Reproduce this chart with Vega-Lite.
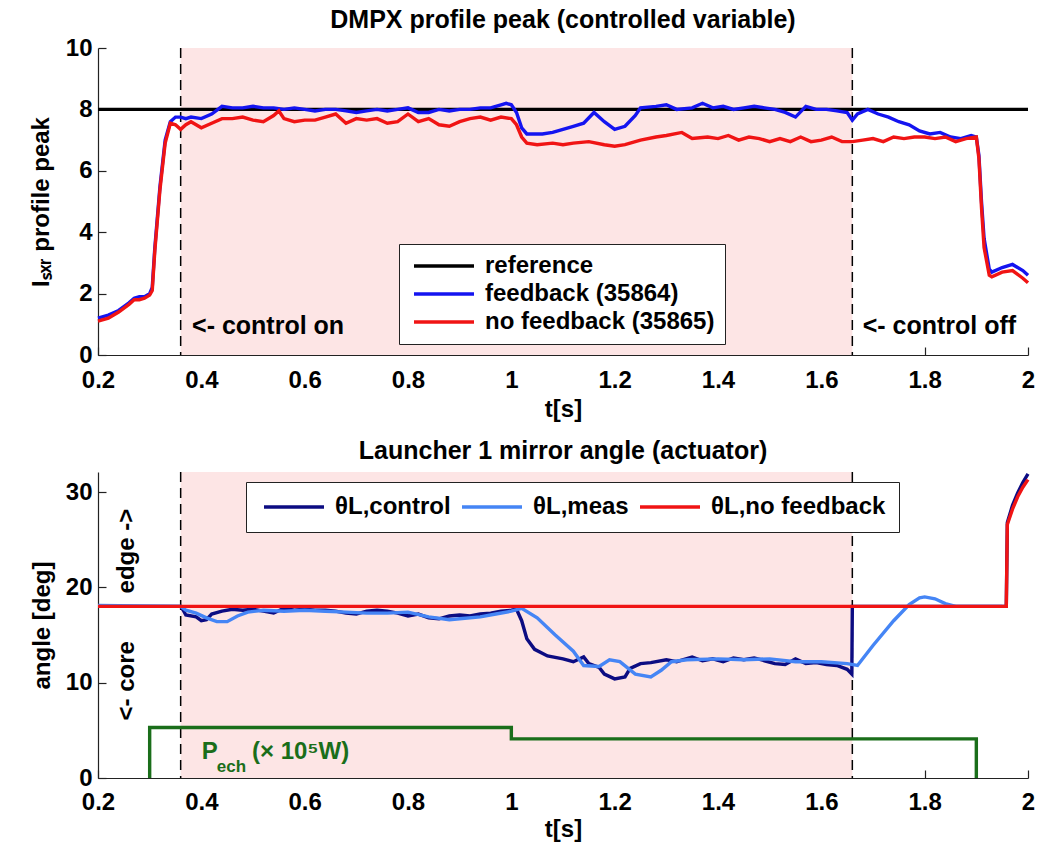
{
"$schema": "https://vega.github.io/schema/vega-lite/v6.json",
"padding": {"left": 29, "top": 8, "right": 10, "bottom": 2},
"background": "white",
"config": {
  "view": {"stroke": null},
  "font": "Liberation Sans",
  "axis": {"grid": false, "domainColor": "#222", "domainWidth": 1.2, "tickColor": "#222", "tickSize": -8, "tickWidth": 1.2,
           "labelFont": "Liberation Sans", "labelFontWeight": "bold", "labelFontSize": 24, "labelColor": "black",
           "titleFont": "Liberation Sans", "titleFontWeight": "bold", "titleFontSize": 24, "titleColor": "black"},
  "title": {"font": "Liberation Sans", "fontWeight": "bold", "fontSize": 25, "color": "black", "anchor": "middle"},
  "legend": {"labelFont": "Liberation Sans", "labelFontWeight": "bold", "labelFontSize": 24, "labelColor": "black", "labelLimit": 500}
},
"datasets": {
  "shade": [{"t0": 0.36, "t1": 1.66}],
  "marks": [{"t": 0.36}, {"t": 1.66}],
  "top": [
    {"t": 0.2, "v": 8, "s": "reference"}, {"t": 2.0, "v": 8, "s": "reference"},
    {"t":0.2,"v":1.2,"s":"feedback (35864)"},{"t":0.22,"v":1.3,"s":"feedback (35864)"},{"t":0.24,"v":1.45,"s":"feedback (35864)"},{"t":0.26,"v":1.7,"s":"feedback (35864)"},{"t":0.27,"v":1.85,"s":"feedback (35864)"},{"t":0.28,"v":1.9,"s":"feedback (35864)"},{"t":0.29,"v":1.9,"s":"feedback (35864)"},{"t":0.3,"v":2.0,"s":"feedback (35864)"},{"t":0.305,"v":2.2,"s":"feedback (35864)"},{"t":0.31,"v":3.5,"s":"feedback (35864)"},{"t":0.32,"v":5.5,"s":"feedback (35864)"},{"t":0.33,"v":7.0,"s":"feedback (35864)"},{"t":0.34,"v":7.6,"s":"feedback (35864)"},{"t":0.35,"v":7.75,"s":"feedback (35864)"},{"t":0.36,"v":7.75,"s":"feedback (35864)"},{"t":0.37,"v":7.7,"s":"feedback (35864)"},{"t":0.38,"v":7.75,"s":"feedback (35864)"},{"t":0.4,"v":7.7,"s":"feedback (35864)"},{"t":0.42,"v":7.85,"s":"feedback (35864)"},{"t":0.44,"v":8.1,"s":"feedback (35864)"},{"t":0.46,"v":8.05,"s":"feedback (35864)"},{"t":0.48,"v":8.05,"s":"feedback (35864)"},{"t":0.5,"v":8.1,"s":"feedback (35864)"},{"t":0.52,"v":8.05,"s":"feedback (35864)"},{"t":0.54,"v":8.05,"s":"feedback (35864)"},{"t":0.56,"v":8.0,"s":"feedback (35864)"},{"t":0.58,"v":8.05,"s":"feedback (35864)"},{"t":0.6,"v":8.0,"s":"feedback (35864)"},{"t":0.62,"v":7.95,"s":"feedback (35864)"},{"t":0.64,"v":8.0,"s":"feedback (35864)"},{"t":0.66,"v":8.0,"s":"feedback (35864)"},{"t":0.68,"v":7.95,"s":"feedback (35864)"},{"t":0.7,"v":7.9,"s":"feedback (35864)"},{"t":0.72,"v":7.95,"s":"feedback (35864)"},{"t":0.74,"v":8.0,"s":"feedback (35864)"},{"t":0.76,"v":7.95,"s":"feedback (35864)"},{"t":0.78,"v":8.0,"s":"feedback (35864)"},{"t":0.8,"v":8.05,"s":"feedback (35864)"},{"t":0.82,"v":7.9,"s":"feedback (35864)"},{"t":0.84,"v":7.9,"s":"feedback (35864)"},{"t":0.86,"v":8.0,"s":"feedback (35864)"},{"t":0.88,"v":7.95,"s":"feedback (35864)"},{"t":0.9,"v":8.0,"s":"feedback (35864)"},{"t":0.92,"v":8.0,"s":"feedback (35864)"},{"t":0.94,"v":8.05,"s":"feedback (35864)"},{"t":0.96,"v":8.05,"s":"feedback (35864)"},{"t":0.98,"v":8.15,"s":"feedback (35864)"},{"t":0.99,"v":8.2,"s":"feedback (35864)"},{"t":1.0,"v":8.15,"s":"feedback (35864)"},{"t":1.01,"v":7.9,"s":"feedback (35864)"},{"t":1.02,"v":7.4,"s":"feedback (35864)"},{"t":1.03,"v":7.2,"s":"feedback (35864)"},{"t":1.06,"v":7.2,"s":"feedback (35864)"},{"t":1.08,"v":7.25,"s":"feedback (35864)"},{"t":1.1,"v":7.35,"s":"feedback (35864)"},{"t":1.12,"v":7.45,"s":"feedback (35864)"},{"t":1.14,"v":7.55,"s":"feedback (35864)"},{"t":1.16,"v":7.9,"s":"feedback (35864)"},{"t":1.18,"v":7.6,"s":"feedback (35864)"},{"t":1.2,"v":7.35,"s":"feedback (35864)"},{"t":1.22,"v":7.45,"s":"feedback (35864)"},{"t":1.24,"v":7.8,"s":"feedback (35864)"},{"t":1.25,"v":8.05,"s":"feedback (35864)"},{"t":1.28,"v":8.1,"s":"feedback (35864)"},{"t":1.3,"v":8.15,"s":"feedback (35864)"},{"t":1.32,"v":8.0,"s":"feedback (35864)"},{"t":1.35,"v":8.05,"s":"feedback (35864)"},{"t":1.37,"v":8.2,"s":"feedback (35864)"},{"t":1.39,"v":8.05,"s":"feedback (35864)"},{"t":1.41,"v":8.1,"s":"feedback (35864)"},{"t":1.43,"v":8.0,"s":"feedback (35864)"},{"t":1.45,"v":8.05,"s":"feedback (35864)"},{"t":1.47,"v":8.1,"s":"feedback (35864)"},{"t":1.49,"v":8.05,"s":"feedback (35864)"},{"t":1.51,"v":8.0,"s":"feedback (35864)"},{"t":1.53,"v":7.9,"s":"feedback (35864)"},{"t":1.55,"v":7.75,"s":"feedback (35864)"},{"t":1.57,"v":8.1,"s":"feedback (35864)"},{"t":1.59,"v":8.0,"s":"feedback (35864)"},{"t":1.61,"v":8.0,"s":"feedback (35864)"},{"t":1.63,"v":7.95,"s":"feedback (35864)"},{"t":1.65,"v":7.9,"s":"feedback (35864)"},{"t":1.66,"v":7.65,"s":"feedback (35864)"},{"t":1.67,"v":7.85,"s":"feedback (35864)"},{"t":1.69,"v":8.0,"s":"feedback (35864)"},{"t":1.71,"v":7.85,"s":"feedback (35864)"},{"t":1.73,"v":7.75,"s":"feedback (35864)"},{"t":1.75,"v":7.6,"s":"feedback (35864)"},{"t":1.77,"v":7.5,"s":"feedback (35864)"},{"t":1.79,"v":7.3,"s":"feedback (35864)"},{"t":1.81,"v":7.2,"s":"feedback (35864)"},{"t":1.83,"v":7.25,"s":"feedback (35864)"},{"t":1.85,"v":7.1,"s":"feedback (35864)"},{"t":1.87,"v":7.05,"s":"feedback (35864)"},{"t":1.89,"v":7.15,"s":"feedback (35864)"},{"t":1.9,"v":7.1,"s":"feedback (35864)"},{"t":1.905,"v":6.5,"s":"feedback (35864)"},{"t":1.91,"v":5.0,"s":"feedback (35864)"},{"t":1.915,"v":3.8,"s":"feedback (35864)"},{"t":1.925,"v":2.8,"s":"feedback (35864)"},{"t":1.93,"v":2.7,"s":"feedback (35864)"},{"t":1.95,"v":2.85,"s":"feedback (35864)"},{"t":1.97,"v":2.95,"s":"feedback (35864)"},{"t":1.99,"v":2.75,"s":"feedback (35864)"},{"t":2.0,"v":2.6,"s":"feedback (35864)"},
    {"t":0.2,"v":1.1,"s":"no feedback (35865)"},{"t":0.22,"v":1.2,"s":"no feedback (35865)"},{"t":0.24,"v":1.4,"s":"no feedback (35865)"},{"t":0.26,"v":1.65,"s":"no feedback (35865)"},{"t":0.27,"v":1.8,"s":"no feedback (35865)"},{"t":0.28,"v":1.8,"s":"no feedback (35865)"},{"t":0.29,"v":1.85,"s":"no feedback (35865)"},{"t":0.3,"v":1.95,"s":"no feedback (35865)"},{"t":0.305,"v":2.1,"s":"no feedback (35865)"},{"t":0.31,"v":3.4,"s":"no feedback (35865)"},{"t":0.32,"v":5.4,"s":"no feedback (35865)"},{"t":0.33,"v":6.9,"s":"no feedback (35865)"},{"t":0.34,"v":7.55,"s":"no feedback (35865)"},{"t":0.35,"v":7.5,"s":"no feedback (35865)"},{"t":0.36,"v":7.35,"s":"no feedback (35865)"},{"t":0.37,"v":7.5,"s":"no feedback (35865)"},{"t":0.38,"v":7.6,"s":"no feedback (35865)"},{"t":0.4,"v":7.4,"s":"no feedback (35865)"},{"t":0.42,"v":7.55,"s":"no feedback (35865)"},{"t":0.44,"v":7.7,"s":"no feedback (35865)"},{"t":0.46,"v":7.7,"s":"no feedback (35865)"},{"t":0.48,"v":7.75,"s":"no feedback (35865)"},{"t":0.5,"v":7.65,"s":"no feedback (35865)"},{"t":0.52,"v":7.6,"s":"no feedback (35865)"},{"t":0.54,"v":7.8,"s":"no feedback (35865)"},{"t":0.55,"v":7.95,"s":"no feedback (35865)"},{"t":0.56,"v":7.7,"s":"no feedback (35865)"},{"t":0.58,"v":7.6,"s":"no feedback (35865)"},{"t":0.6,"v":7.65,"s":"no feedback (35865)"},{"t":0.62,"v":7.65,"s":"no feedback (35865)"},{"t":0.64,"v":7.75,"s":"no feedback (35865)"},{"t":0.66,"v":7.85,"s":"no feedback (35865)"},{"t":0.68,"v":7.55,"s":"no feedback (35865)"},{"t":0.7,"v":7.7,"s":"no feedback (35865)"},{"t":0.72,"v":7.65,"s":"no feedback (35865)"},{"t":0.74,"v":7.7,"s":"no feedback (35865)"},{"t":0.76,"v":7.55,"s":"no feedback (35865)"},{"t":0.78,"v":7.6,"s":"no feedback (35865)"},{"t":0.8,"v":7.85,"s":"no feedback (35865)"},{"t":0.82,"v":7.6,"s":"no feedback (35865)"},{"t":0.84,"v":7.7,"s":"no feedback (35865)"},{"t":0.86,"v":7.5,"s":"no feedback (35865)"},{"t":0.88,"v":7.45,"s":"no feedback (35865)"},{"t":0.9,"v":7.6,"s":"no feedback (35865)"},{"t":0.92,"v":7.7,"s":"no feedback (35865)"},{"t":0.94,"v":7.75,"s":"no feedback (35865)"},{"t":0.96,"v":7.65,"s":"no feedback (35865)"},{"t":0.98,"v":7.75,"s":"no feedback (35865)"},{"t":1.0,"v":7.7,"s":"no feedback (35865)"},{"t":1.01,"v":7.5,"s":"no feedback (35865)"},{"t":1.02,"v":7.1,"s":"no feedback (35865)"},{"t":1.03,"v":6.9,"s":"no feedback (35865)"},{"t":1.05,"v":6.85,"s":"no feedback (35865)"},{"t":1.08,"v":6.9,"s":"no feedback (35865)"},{"t":1.1,"v":6.85,"s":"no feedback (35865)"},{"t":1.12,"v":6.9,"s":"no feedback (35865)"},{"t":1.15,"v":6.95,"s":"no feedback (35865)"},{"t":1.18,"v":6.85,"s":"no feedback (35865)"},{"t":1.2,"v":6.8,"s":"no feedback (35865)"},{"t":1.22,"v":6.85,"s":"no feedback (35865)"},{"t":1.25,"v":7.0,"s":"no feedback (35865)"},{"t":1.28,"v":7.1,"s":"no feedback (35865)"},{"t":1.3,"v":7.15,"s":"no feedback (35865)"},{"t":1.33,"v":7.25,"s":"no feedback (35865)"},{"t":1.35,"v":7.05,"s":"no feedback (35865)"},{"t":1.38,"v":7.1,"s":"no feedback (35865)"},{"t":1.4,"v":7.05,"s":"no feedback (35865)"},{"t":1.42,"v":7.15,"s":"no feedback (35865)"},{"t":1.44,"v":7.0,"s":"no feedback (35865)"},{"t":1.46,"v":7.1,"s":"no feedback (35865)"},{"t":1.48,"v":7.05,"s":"no feedback (35865)"},{"t":1.5,"v":6.95,"s":"no feedback (35865)"},{"t":1.52,"v":7.05,"s":"no feedback (35865)"},{"t":1.54,"v":6.95,"s":"no feedback (35865)"},{"t":1.56,"v":7.1,"s":"no feedback (35865)"},{"t":1.58,"v":6.95,"s":"no feedback (35865)"},{"t":1.6,"v":7.0,"s":"no feedback (35865)"},{"t":1.62,"v":7.1,"s":"no feedback (35865)"},{"t":1.64,"v":6.95,"s":"no feedback (35865)"},{"t":1.66,"v":6.95,"s":"no feedback (35865)"},{"t":1.68,"v":7.0,"s":"no feedback (35865)"},{"t":1.7,"v":7.05,"s":"no feedback (35865)"},{"t":1.72,"v":6.95,"s":"no feedback (35865)"},{"t":1.74,"v":7.1,"s":"no feedback (35865)"},{"t":1.76,"v":7.05,"s":"no feedback (35865)"},{"t":1.78,"v":7.1,"s":"no feedback (35865)"},{"t":1.8,"v":7.1,"s":"no feedback (35865)"},{"t":1.82,"v":7.05,"s":"no feedback (35865)"},{"t":1.84,"v":7.1,"s":"no feedback (35865)"},{"t":1.86,"v":6.95,"s":"no feedback (35865)"},{"t":1.88,"v":7.05,"s":"no feedback (35865)"},{"t":1.9,"v":7.1,"s":"no feedback (35865)"},{"t":1.905,"v":6.4,"s":"no feedback (35865)"},{"t":1.91,"v":4.8,"s":"no feedback (35865)"},{"t":1.915,"v":3.5,"s":"no feedback (35865)"},{"t":1.925,"v":2.6,"s":"no feedback (35865)"},{"t":1.93,"v":2.55,"s":"no feedback (35865)"},{"t":1.95,"v":2.7,"s":"no feedback (35865)"},{"t":1.97,"v":2.75,"s":"no feedback (35865)"},{"t":1.99,"v":2.5,"s":"no feedback (35865)"},{"t":2.0,"v":2.35,"s":"no feedback (35865)"}
  ],
  "bot": [
    {"t":0.2,"v":18,"s":"θL,control"},{"t":0.36,"v":18,"s":"θL,control"},{"t":0.365,"v":17.6,"s":"θL,control"},{"t":0.37,"v":17.1,"s":"θL,control"},{"t":0.39,"v":16.9,"s":"θL,control"},{"t":0.4,"v":16.5,"s":"θL,control"},{"t":0.41,"v":16.6,"s":"θL,control"},{"t":0.42,"v":17.2,"s":"θL,control"},{"t":0.44,"v":17.5,"s":"θL,control"},{"t":0.46,"v":17.7,"s":"θL,control"},{"t":0.48,"v":17.6,"s":"θL,control"},{"t":0.5,"v":17.7,"s":"θL,control"},{"t":0.52,"v":17.5,"s":"θL,control"},{"t":0.54,"v":17.3,"s":"θL,control"},{"t":0.56,"v":17.8,"s":"θL,control"},{"t":0.58,"v":17.6,"s":"θL,control"},{"t":0.6,"v":17.7,"s":"θL,control"},{"t":0.62,"v":17.6,"s":"θL,control"},{"t":0.64,"v":17.6,"s":"θL,control"},{"t":0.66,"v":17.5,"s":"θL,control"},{"t":0.68,"v":17.3,"s":"θL,control"},{"t":0.7,"v":17.2,"s":"θL,control"},{"t":0.72,"v":17.5,"s":"θL,control"},{"t":0.74,"v":17.6,"s":"θL,control"},{"t":0.76,"v":17.5,"s":"θL,control"},{"t":0.78,"v":17.3,"s":"θL,control"},{"t":0.8,"v":17.0,"s":"θL,control"},{"t":0.82,"v":17.2,"s":"θL,control"},{"t":0.84,"v":16.8,"s":"θL,control"},{"t":0.86,"v":16.7,"s":"θL,control"},{"t":0.88,"v":17.0,"s":"θL,control"},{"t":0.9,"v":17.1,"s":"θL,control"},{"t":0.92,"v":17.0,"s":"θL,control"},{"t":0.94,"v":17.2,"s":"θL,control"},{"t":0.96,"v":17.3,"s":"θL,control"},{"t":0.98,"v":17.5,"s":"θL,control"},{"t":1.0,"v":17.6,"s":"θL,control"},{"t":1.01,"v":17.7,"s":"θL,control"},{"t":1.02,"v":16.5,"s":"θL,control"},{"t":1.03,"v":14.6,"s":"θL,control"},{"t":1.045,"v":13.5,"s":"θL,control"},{"t":1.07,"v":12.8,"s":"θL,control"},{"t":1.1,"v":12.5,"s":"θL,control"},{"t":1.12,"v":12.2,"s":"θL,control"},{"t":1.14,"v":12.7,"s":"θL,control"},{"t":1.15,"v":12.0,"s":"θL,control"},{"t":1.17,"v":11.6,"s":"θL,control"},{"t":1.18,"v":10.9,"s":"θL,control"},{"t":1.2,"v":10.4,"s":"θL,control"},{"t":1.22,"v":10.6,"s":"θL,control"},{"t":1.23,"v":11.5,"s":"θL,control"},{"t":1.25,"v":12.0,"s":"θL,control"},{"t":1.27,"v":12.1,"s":"θL,control"},{"t":1.3,"v":12.4,"s":"θL,control"},{"t":1.32,"v":12.2,"s":"θL,control"},{"t":1.35,"v":12.7,"s":"θL,control"},{"t":1.37,"v":12.3,"s":"θL,control"},{"t":1.39,"v":12.5,"s":"θL,control"},{"t":1.41,"v":12.2,"s":"θL,control"},{"t":1.43,"v":12.6,"s":"θL,control"},{"t":1.45,"v":12.4,"s":"θL,control"},{"t":1.47,"v":12.6,"s":"θL,control"},{"t":1.49,"v":12.3,"s":"θL,control"},{"t":1.51,"v":12.0,"s":"θL,control"},{"t":1.53,"v":11.9,"s":"θL,control"},{"t":1.55,"v":12.5,"s":"θL,control"},{"t":1.57,"v":12.0,"s":"θL,control"},{"t":1.59,"v":12.1,"s":"θL,control"},{"t":1.61,"v":11.9,"s":"θL,control"},{"t":1.63,"v":11.8,"s":"θL,control"},{"t":1.65,"v":11.4,"s":"θL,control"},{"t":1.659,"v":10.9,"s":"θL,control"},{"t":1.66,"v":18,"s":"θL,control"},{"t":1.958,"v":18,"s":"θL,control"},{"t":1.96,"v":26.8,"s":"θL,control"},{"t":1.97,"v":28.6,"s":"θL,control"},{"t":1.98,"v":29.9,"s":"θL,control"},{"t":1.99,"v":31.0,"s":"θL,control"},{"t":2.0,"v":31.9,"s":"θL,control"},
    {"t":0.2,"v":18.1,"s":"θL,meas"},{"t":0.36,"v":18.0,"s":"θL,meas"},{"t":0.37,"v":17.6,"s":"θL,meas"},{"t":0.39,"v":17.3,"s":"θL,meas"},{"t":0.41,"v":16.8,"s":"θL,meas"},{"t":0.43,"v":16.4,"s":"θL,meas"},{"t":0.45,"v":16.4,"s":"θL,meas"},{"t":0.47,"v":17.0,"s":"θL,meas"},{"t":0.49,"v":17.4,"s":"θL,meas"},{"t":0.52,"v":17.6,"s":"θL,meas"},{"t":0.56,"v":17.5,"s":"θL,meas"},{"t":0.6,"v":17.6,"s":"θL,meas"},{"t":0.64,"v":17.5,"s":"θL,meas"},{"t":0.68,"v":17.4,"s":"θL,meas"},{"t":0.72,"v":17.3,"s":"θL,meas"},{"t":0.76,"v":17.3,"s":"θL,meas"},{"t":0.8,"v":17.4,"s":"θL,meas"},{"t":0.84,"v":16.9,"s":"θL,meas"},{"t":0.88,"v":16.6,"s":"θL,meas"},{"t":0.9,"v":16.7,"s":"θL,meas"},{"t":0.94,"v":16.9,"s":"θL,meas"},{"t":0.97,"v":17.2,"s":"θL,meas"},{"t":1.0,"v":17.5,"s":"θL,meas"},{"t":1.02,"v":17.8,"s":"θL,meas"},{"t":1.05,"v":16.8,"s":"θL,meas"},{"t":1.085,"v":15.0,"s":"θL,meas"},{"t":1.12,"v":13.3,"s":"θL,meas"},{"t":1.14,"v":11.8,"s":"θL,meas"},{"t":1.17,"v":11.7,"s":"θL,meas"},{"t":1.19,"v":12.4,"s":"θL,meas"},{"t":1.21,"v":12.2,"s":"θL,meas"},{"t":1.24,"v":10.9,"s":"θL,meas"},{"t":1.27,"v":10.6,"s":"θL,meas"},{"t":1.29,"v":11.3,"s":"θL,meas"},{"t":1.31,"v":12.2,"s":"θL,meas"},{"t":1.34,"v":12.4,"s":"θL,meas"},{"t":1.4,"v":12.5,"s":"θL,meas"},{"t":1.45,"v":12.4,"s":"θL,meas"},{"t":1.5,"v":12.5,"s":"θL,meas"},{"t":1.55,"v":12.2,"s":"θL,meas"},{"t":1.6,"v":12.2,"s":"θL,meas"},{"t":1.65,"v":12.0,"s":"θL,meas"},{"t":1.67,"v":11.8,"s":"θL,meas"},{"t":1.7,"v":13.9,"s":"θL,meas"},{"t":1.74,"v":16.5,"s":"θL,meas"},{"t":1.77,"v":18.2,"s":"θL,meas"},{"t":1.79,"v":18.9,"s":"θL,meas"},{"t":1.8,"v":19.0,"s":"θL,meas"},{"t":1.82,"v":18.8,"s":"θL,meas"},{"t":1.84,"v":18.3,"s":"θL,meas"},{"t":1.86,"v":18.0,"s":"θL,meas"},{"t":1.95,"v":18.0,"s":"θL,meas"},
    {"t":0.2,"v":18,"s":"θL,no feedback"},{"t":1.958,"v":18,"s":"θL,no feedback"},{"t":1.96,"v":26.6,"s":"θL,no feedback"},{"t":1.97,"v":28.2,"s":"θL,no feedback"},{"t":1.98,"v":29.5,"s":"θL,no feedback"},{"t":1.99,"v":30.5,"s":"θL,no feedback"},{"t":2.0,"v":31.3,"s":"θL,no feedback"}
  ],
  "pech": [{"i":1,"t":0.3,"v":0},{"i":2,"t":0.3,"v":5.3},{"i":3,"t":1.0,"v":5.3},{"i":4,"t":1.0,"v":4.1},{"i":5,"t":1.9,"v":4.1},{"i":6,"t":1.9,"v":0}],
  "annTop": [{"t": 0.382, "v": 0.95, "txt": "<- control on"}, {"t": 1.68, "v": 0.95, "txt": "<- control off"}],
  "annSide": [{"t": 0.256, "v": 23.8, "txt": "edge ->"}, {"t": 0.256, "v": 10.2, "txt": "<- core"}],
  "annP": [{"t": 0.401, "v": 2.7, "txt": "P"}, {"t": 0.498, "v": 2.7, "txt": "(× 10⁵W)"}],
  "annSub": [{"t": 0.43, "v": 1.2, "txt": "ech"}]
},
"resolve": {"scale": {"color": "independent"}, "legend": {"color": "independent"}},
"bounds": "flush",
"spacing": 117,
"vconcat": [
  {
    "width": 930, "height": 307,
    "title": {"text": "DMPX profile peak (controlled variable)", "offset": 3},
    "layer": [
      {"data": {"name": "shade"}, "mark": {"type": "rect", "color": "#fde5e5"},
       "encoding": {"x": {"field": "t0", "type": "quantitative", "scale": {"domain": [0.2, 2]},
                          "axis": {"values": [0.2,0.4,0.6,0.8,1,1.2,1.4,1.6,1.8,2], "format": "~g", "title": "t[s]", "labelFlush": false, "labelPadding": 21, "titlePadding": 5}},
                    "x2": {"field": "t1"}}},
      {"data": {"name": "marks"}, "mark": {"type": "rule", "color": "black", "strokeDash": [10, 6], "strokeWidth": 1.5},
       "encoding": {"x": {"field": "t", "type": "quantitative"}}},
      {"data": {"name": "top"}, "mark": {"type": "line", "strokeWidth": 3.4},
       "encoding": {
         "x": {"field": "t", "type": "quantitative"},
         "y": {"field": "v", "type": "quantitative", "scale": {"domain": [0, 10]},
               "axis": {"values": [0,2,4,6,8,10], "title": "Iₛₓᵣ profile peak", "labelPadding": 14, "titlePadding": 12}},
         "color": {"field": "s", "type": "nominal",
                   "scale": {"domain": ["reference", "feedback (35864)", "no feedback (35865)"], "range": ["#000000", "#1414f0", "#f01414"]},
                   "legend": {"orient": "none", "legendX": 301, "legendY": 196, "title": null, "labelFontSize": 24,
                              "symbolType": "M-3,0L3,0", "symbolSize": 400, "symbolStrokeWidth": 3.5,
                              "symbolOffset": 23, "labelOffset": 29, "padding": 10, "rowPadding": 4,
                              "strokeColor": "#222", "fillColor": "white", "cornerRadius": 0}}
       }},
      {"data": {"name": "annTop"}, "mark": {"type": "text", "align": "left", "baseline": "middle", "fontSize": 25, "fontWeight": "bold", "font": "Liberation Sans", "color": "black"},
       "encoding": {"x": {"field": "t", "type": "quantitative"}, "y": {"field": "v", "type": "quantitative"}, "text": {"field": "txt"}}}
    ]
  },
  {
    "width": 930, "height": 306,
    "title": {"text": "Launcher 1 mirror angle (actuator)", "offset": 3},
    "layer": [
      {"data": {"name": "shade"}, "mark": {"type": "rect", "color": "#fde5e5"},
       "encoding": {"x": {"field": "t0", "type": "quantitative", "scale": {"domain": [0.2, 2]},
                          "axis": {"values": [0.2,0.4,0.6,0.8,1,1.2,1.4,1.6,1.8,2], "format": "~g", "title": "t[s]", "labelFlush": false, "labelPadding": 20, "titlePadding": 3}},
                    "x2": {"field": "t1"}}},
      {"data": {"name": "marks"}, "mark": {"type": "rule", "color": "black", "strokeDash": [10, 6], "strokeWidth": 1.5},
       "encoding": {"x": {"field": "t", "type": "quantitative"}}},
      {"data": {"name": "pech"}, "mark": {"type": "line", "color": "#1a6e1a", "strokeWidth": 3.4},
       "encoding": {"x": {"field": "t", "type": "quantitative"}, "y": {"field": "v", "type": "quantitative"}, "order": {"field": "i"}}},
      {"data": {"name": "bot"}, "mark": {"type": "line", "strokeWidth": 3.4},
       "encoding": {
         "x": {"field": "t", "type": "quantitative"},
         "y": {"field": "v", "type": "quantitative", "scale": {"domain": [0, 32.1], "nice": false},
               "axis": {"values": [0,10,20,30], "title": "angle [deg]", "labelPadding": 14, "titlePadding": 11}},
         "color": {"field": "s", "type": "nominal",
                   "scale": {"domain": ["θL,control", "θL,meas", "θL,no feedback"], "range": ["#0c0c82", "#4585f5", "#f01414"]},
                   "legend": {"orient": "none", "legendX": 148, "legendY": 10, "title": null, "direction": "horizontal",
                              "symbolType": "M-3,0L3,0", "symbolSize": 400, "symbolStrokeWidth": 3.5,
                              "symbolOffset": 23, "labelOffset": 29, "padding": 13, "columnPadding": 4,
                              "strokeColor": "#222", "fillColor": "white", "cornerRadius": 0}}
       }},
      {"data": {"name": "annSide"}, "mark": {"type": "text", "align": "center", "baseline": "middle", "angle": 270, "fontSize": 24, "fontWeight": "bold", "font": "Liberation Sans", "color": "black"},
       "encoding": {"x": {"field": "t", "type": "quantitative"}, "y": {"field": "v", "type": "quantitative"}, "text": {"field": "txt"}}},
      {"data": {"name": "annP"}, "mark": {"type": "text", "align": "left", "baseline": "middle", "fontSize": 24, "fontWeight": "bold", "font": "Liberation Sans", "color": "#1a6e1a"},
       "encoding": {"x": {"field": "t", "type": "quantitative"}, "y": {"field": "v", "type": "quantitative"}, "text": {"field": "txt"}}},
      {"data": {"name": "annSub"}, "mark": {"type": "text", "align": "left", "baseline": "middle", "fontSize": 17, "fontWeight": "bold", "font": "Liberation Sans", "color": "#1a6e1a"},
       "encoding": {"x": {"field": "t", "type": "quantitative"}, "y": {"field": "v", "type": "quantitative"}, "text": {"field": "txt"}}}
    ]
  }
]
}
